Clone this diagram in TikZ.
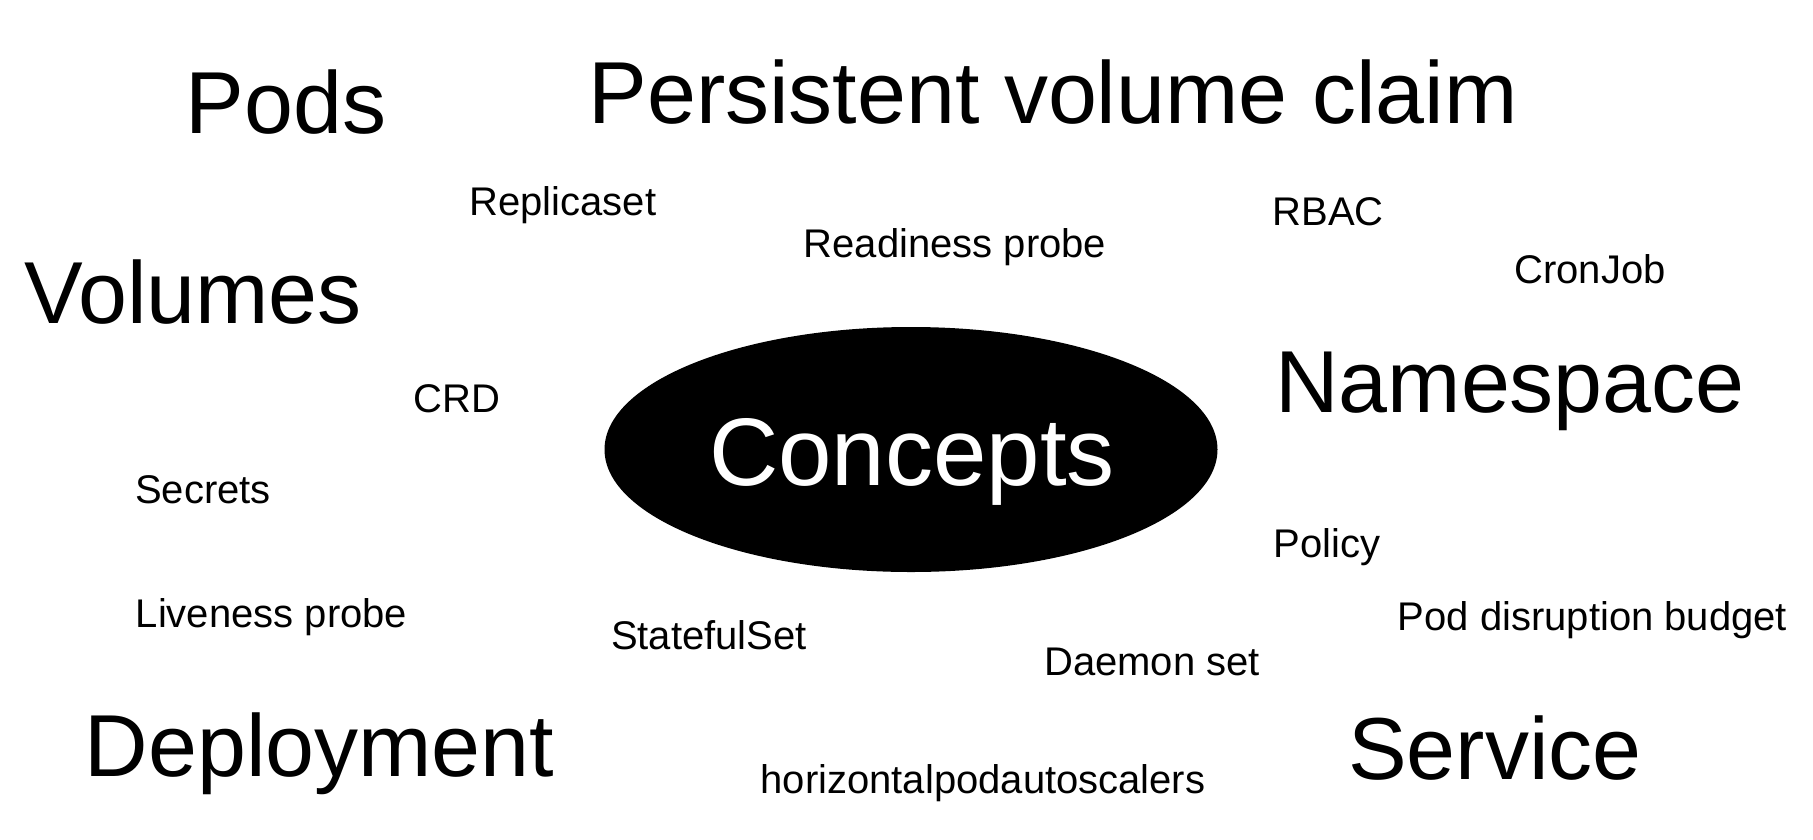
\documentclass[tikz,border=0pt]{standalone}
\usepackage{fontspec}
\setmainfont{Liberation Sans}
\usetikzlibrary{shapes.geometric}
\tikzset{
  word/.style={inner sep=0pt, anchor=base, text=black},
  bigword/.style={word, font=\fontsize{88}{100}\selectfont},
  smallword/.style={word, font=\fontsize{40}{48}\selectfont},
  hub/.style={ellipse, fill=black, draw=none, minimum width=613pt, minimum height=245pt, inner sep=0pt},
  hubtext/.style={inner sep=0pt, anchor=base, text=white, font=\fontsize{96}{110}\selectfont}
}
\begin{document}
\begin{tikzpicture}[x=1pt,y=-1pt]
\useasboundingbox (0,0) rectangle (1813,839);
\node[hub] (hub) at (911,449.5) {};
\node[hubtext] (concepts) at (912,485) {Concepts};
\node[bigword] (pods) at (286,133) {Pods};
\node[bigword] (pvc) at (1053,123) {Persistent volume claim};
\node[bigword] (volumes) at (193,323) {Volumes};
\node[bigword] (namespace) at (1510,412) {Namespace};
\node[bigword] (deployment) at (319.5,776) {Deployment};
\node[bigword] (service) at (1495,779) {Service};
\node[smallword] (replicaset) at (563,215) {Replicaset};
\node[smallword] (readiness) at (955,257) {Readiness probe};
\node[smallword] (rbac) at (1328,225) {RBAC};
\node[smallword] (cronjob) at (1590,283) {CronJob};
\node[smallword] (crd) at (457,412) {CRD};
\node[smallword] (secrets) at (203,503) {Secrets};
\node[smallword] (liveness) at (271.5,627) {Liveness probe};
\node[smallword] (statefulset) at (709,649) {StatefulSet};
\node[smallword] (policy) at (1327,557) {Policy};
\node[smallword] (pdb) at (1592.5,630) {Pod disruption budget};
\node[smallword] (daemonset) at (1152,675) {Daemon set};
\node[smallword] (hpa) at (983,793) {horizontalpodautoscalers};
\end{tikzpicture}
\end{document}
